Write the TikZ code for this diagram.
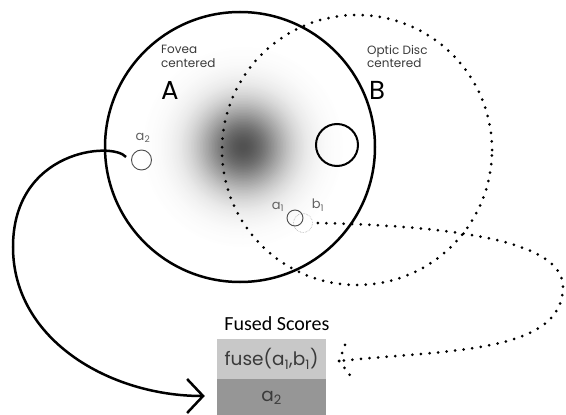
\documentclass[tikz,border=0pt]{standalone}
\usepackage{fontspec}
\setmainfont{Poppins}
\newfontfamily\calfont{Carlito}
\usetikzlibrary{arrows.meta}
\definecolor{lblgray}{HTML}{3A3A3A}
\definecolor{rowlight}{HTML}{C8C8C8}
\definecolor{rowdark}{HTML}{969696}
\begin{document}
\begin{tikzpicture}[x=1pt,y=-1pt,
  dotline/.style={line width=3pt, dash pattern=on 0pt off 8.6pt, line cap=round},
  bigring/.style={circle, draw, minimum size=270pt, inner sep=0pt},
  spot/.style={circle, draw, inner sep=0pt},
  lbl/.style={inner sep=0pt, text=lblgray, font=\fontsize{12}{13.5}\selectfont, align=left, anchor=north west},
  bigletter/.style={inner sep=0pt, anchor=north west, font=\fontsize{26}{28}\selectfont},
  sublbl/.style={inner sep=0pt, text=lblgray!80, font=\fontsize{13}{15}\selectfont},
  scorerow/.style={minimum width=109pt, inner sep=0pt, text=lblgray, font=\fontsize{18.5}{20}\selectfont}
]
\useasboundingbox (0,0) rectangle (566,415);
\foreach \r in {100,98.5,...,1} {
  \pgfmathsetmacro\c{68*exp(-(\r/44.7)^2)}
  \fill[black!\c] (243,147) circle[radius=\r];
}

\node[bigring, line width=2.5pt] (A) at (240,147) {};
\node[bigring, dotline] (B) at (357,150) {};
\node[spot, line width=2pt, minimum size=42pt] (od) at (337,145) {};

\node[spot, line width=0.9pt, draw=black!70, minimum size=20pt] (a2) at (141.5,160) {};
\node[spot, line width=0.6pt, draw=black!35, densely dotted, minimum size=19pt] (b1) at (303,223) {};
\node[spot, line width=0.9pt, draw=black!70, minimum size=16pt] (a1) at (295,218) {};

\node[lbl] (fovea) at (161,45) {Fovea\\centered};
\node[lbl] (optic) at (367,45) {Optic Disc\\centered};
\node[bigletter] (Alab) at (161,81) {A};
\node[bigletter] (Blab) at (369,81) {B};

\node[sublbl] (a2lab) at (143,138) {a\textsubscript{2}};
\node[sublbl] (a1lab) at (278,207) {a\textsubscript{1}};
\node[sublbl] (b1lab) at (318,205) {b\textsubscript{1}};

\node[inner sep=0pt, font=\calfont\fontsize{20}{22}\selectfont] (fused) at (277,324) {Fused Scores};
\node[scorerow, fill=rowlight, minimum height=40pt] (r1) at (271.5,359) {fuse(a\textsubscript{1},b\textsubscript{1})};
\node[scorerow, fill=rowdark, minimum height=38pt] (r2) at (271.5,398) {a\textsubscript{2}};

\draw[line width=2.5pt, -{Straight Barb[length=16pt, width=34pt]}]
  ([shift={(-5,-3)}]a2.west) .. controls (112,141) and (13,150) .. (13,247)
  .. controls (13,340) and (110,396) .. ([shift={(-12,-2)}]r2.west);

\coordinate (tipB) at ([shift={(13,2)}]r1.east);
\draw[dotline] ([xshift=5pt]b1.east) .. controls (450,226) and (563,240) .. (563,287)
  .. controls (563,355) and (440,350) .. (tipB);
\draw[dotline] (tipB) -- ++(8,-22);
\draw[dotline] (tipB) -- ++(13,17);
\end{tikzpicture}
\end{document}
